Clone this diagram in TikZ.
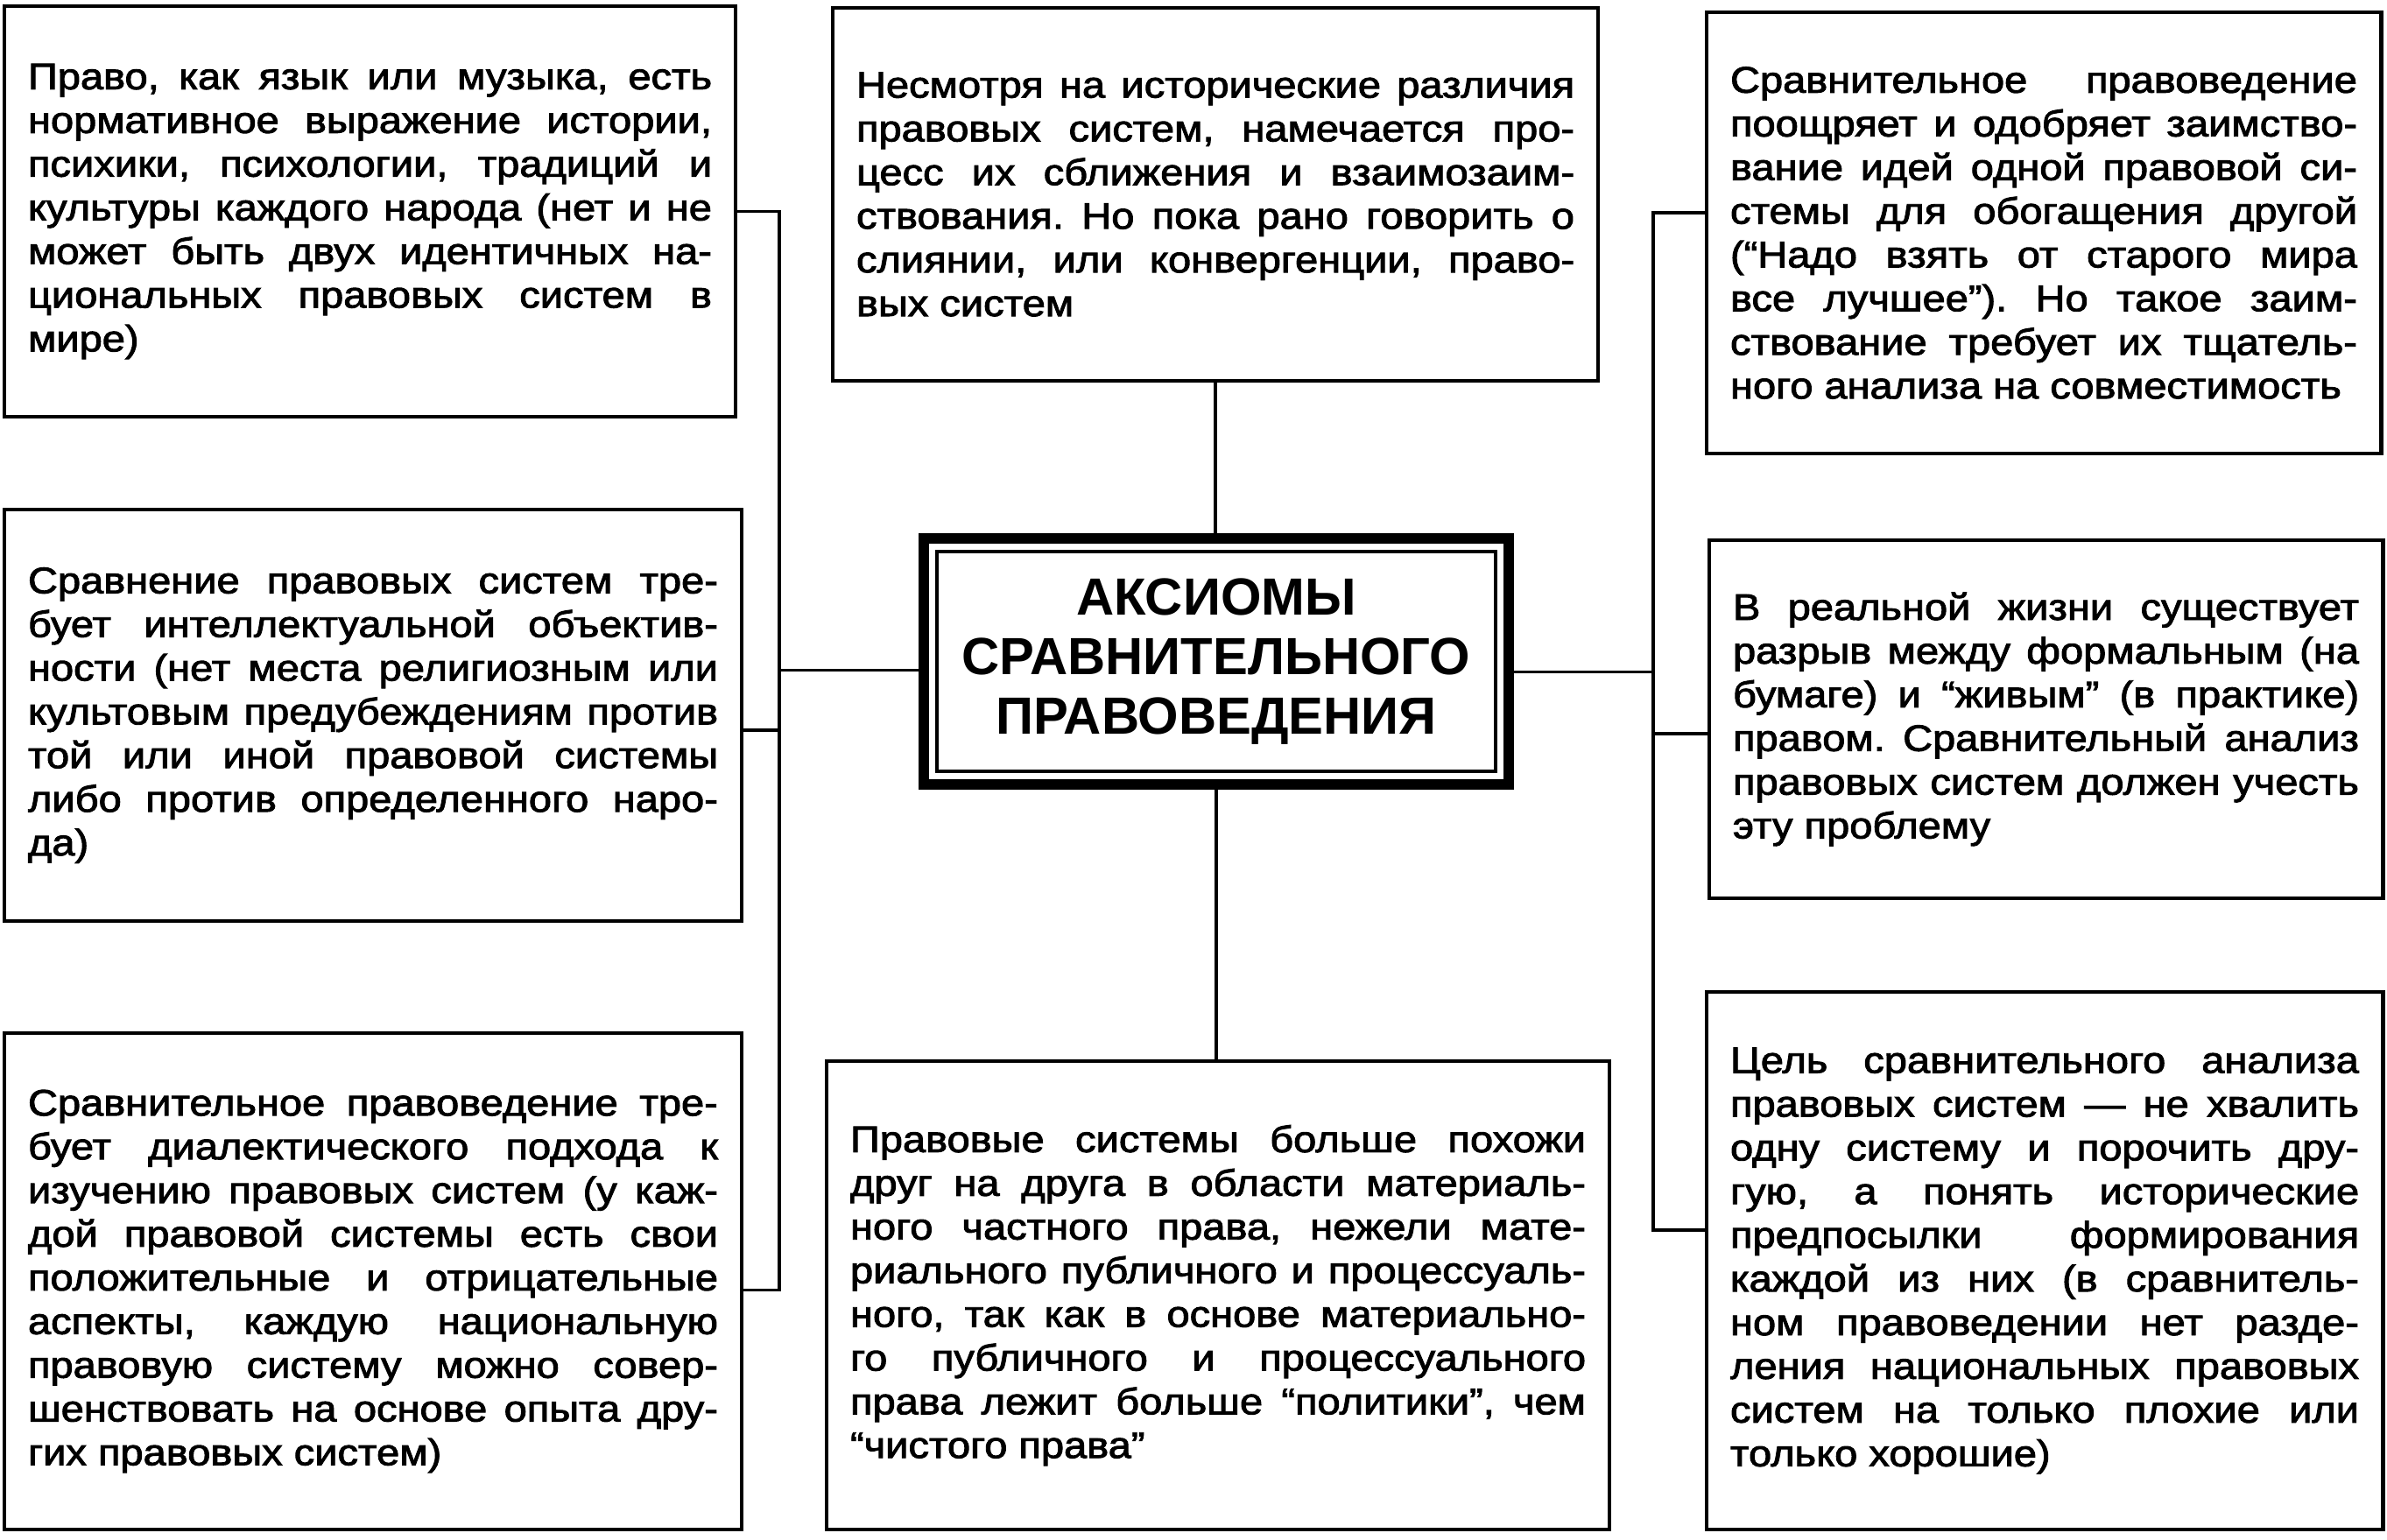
\documentclass[tikz,border=0pt]{standalone}
\usepackage{fontspec}
\setmainfont{Liberation Sans}
\newfontfamily\boxfont{Liberation Sans}[FakeStretch=1.115,FakeBold=2.2]
\usepackage{tikz}
\usetikzlibrary{positioning,calc}
\frenchspacing
\newcommand{\jline}[1]{\makebox[\hsize][s]{\frenchspacing\spaceskip=0.24em plus 1fil\relax #1}\\}

\begin{document}
\begin{tikzpicture}[
        axiom/.style={rectangle, draw, line width=1.4pt, inner xsep=0.27cm, inner ysep=0pt,
                      align=justify, font=\boxfont\fontsize{12}{14.2}\selectfont},
        title/.style={rectangle, draw, line width=3.5pt, align=center,
                      font=\bfseries\fontsize{17}{19.3}\selectfont},
        link/.style={line width=1.1pt}
    ]
        \useasboundingbox (0,0) rectangle (27.26,-17.59);

        % centre
        \node[title, minimum width=6.68cm, minimum height=2.81cm] (ax) at (13.89,-7.555)
            {АКСИОМЫ\\СРАВНИТЕЛЬНОГО\\ПРАВОВЕДЕНИЯ};
        \draw[line width=1.3pt] ([shift={(0.21,-0.21)}]ax.north west)
            rectangle ([shift={(-0.21,0.21)}]ax.south east);

        % left column
        \node[axiom, text width=7.81cm, minimum height=4.69cm] (lt) at (4.225,-2.415) {%
            \jline{Право, как язык или музыка, есть}
            \jline{нормативное выражение истории,}
            \jline{психики, психологии, традиций и}
            \jline{культуры каждого народа (нет и не}
            \jline{может быть двух идентичных на-}
            \jline{циональных правовых систем в}
            мире)};
        \node[axiom, text width=7.88cm, minimum height=4.70cm] (lm) at (4.26,-8.17) {%
            \jline{Сравнение правовых систем тре-}
            \jline{бует интеллектуальной объектив-}
            \jline{ности (нет места религиозным или}
            \jline{культовым предубеждениям против}
            \jline{той или иной правовой системы}
            \jline{либо против определенного наро-}
            да)};
        \node[axiom, text width=7.88cm, minimum height=5.67cm] (lb) at (4.26,-14.635) {%
            \jline{Сравнительное правоведение тре-}
            \jline{бует диалектического подхода к}
            \jline{изучению правовых систем (у каж-}
            \jline{дой правовой системы есть свои}
            \jline{положительные и отрицательные}
            \jline{аспекты, каждую национальную}
            \jline{правовую систему можно совер-}
            \jline{шенствовать на основе опыта дру-}
            гих правовых систем)};

        % middle column
        \node[axiom, text width=8.20cm, minimum height=4.26cm] (tm) at (13.88,-2.22) {%
            \jline{Несмотря на исторические различия}
            \jline{правовых систем, намечается про-}
            \jline{цесс их сближения и взаимозаим-}
            \jline{ствования. Но пока рано говорить о}
            \jline{слиянии, или конвергенции, право-}
            вых систем};
        \node[axiom, text width=8.40cm, minimum height=5.35cm] (bm) at (13.91,-14.795) {%
            \jline{Правовые системы больше похожи}
            \jline{друг на друга в области материаль-}
            \jline{ного частного права, нежели мате-}
            \jline{риального публичного и процессуаль-}
            \jline{ного, так как в основе материально-}
            \jline{го публичного и процессуального}
            \jline{права лежит больше “политики”, чем}
            “чистого права”};

        % right column
        \node[axiom, text width=7.16cm, minimum height=5.04cm] (rt) at (23.34,-2.66) {%
            \jline{Сравнительное правоведение}
            \jline{поощряет и одобряет заимство-}
            \jline{вание идей одной правовой си-}
            \jline{стемы для обогащения другой}
            \jline{(“Надо взять от старого мира}
            \jline{все лучшее”). Но такое заим-}
            \jline{ствование требует их тщатель-}
            ного анализа на совместимость};
        \node[axiom, text width=7.15cm, minimum height=4.09cm] (rm) at (23.365,-8.215) {%
            \jline{В реальной жизни существует}
            \jline{разрыв между формальным (на}
            \jline{бумаге) и “живым” (в практике)}
            \jline{правом. Сравнительный анализ}
            \jline{правовых систем должен учесть}
            эту проблему};
        \node[axiom, text width=7.18cm, minimum height=6.14cm] (rb) at (23.35,-14.40) {%
            \jline{Цель сравнительного анализа}
            \jline{правовых систем — не хвалить}
            \jline{одну систему и порочить дру-}
            \jline{гую, а понять исторические}
            \jline{предпосылки формирования}
            \jline{каждой из них (в сравнитель-}
            \jline{ном правоведении нет разде-}
            \jline{ления национальных правовых}
            \jline{систем на только плохие или}
            только хорошие)};

        % buses
        \coordinate (lbus) at (8.90,0);
        \coordinate (rbus) at (18.88,0);
        \coordinate (lmstub) at ([yshift=-1.7mm]lm.east);
        \coordinate (lbstub) at ([yshift=-1mm]lb.east);
        \coordinate (rtstub) at ([yshift=2.3mm]rt.west);
        \coordinate (rmstub) at ([yshift=-1.65mm]rm.west);
        \coordinate (rbstub) at ([yshift=3.5mm]rb.west);
        \coordinate (axleft) at ([yshift=-1mm]ax.west);
        \coordinate (axright) at ([yshift=-1.2mm]ax.east);

        \draw[link] (lt.east) -| (lbus |- lbstub) -- (lbstub);
        \draw[link] (lmstub) -- (lbus |- lmstub);
        \draw[link] (axleft) -- (lbus |- axleft);
        \draw[link] (rtstub) -| (rbus |- rbstub) -- (rbstub);
        \draw[link] (rmstub) -- (rbus |- rmstub);
        \draw[link] (axright) -- (rbus |- axright);
        \draw[link] (tm.south) -- (tm.south |- ax.north);
        \draw[link] (ax.south) -- (ax.south |- bm.north);
    \end{tikzpicture}
\end{document}
